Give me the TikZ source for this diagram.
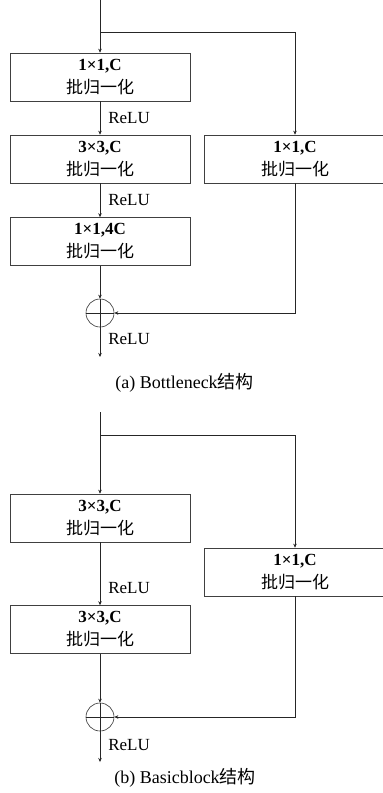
\documentclass[tikz,border=0pt]{standalone}
\usepackage{fontspec}
\setmainfont{Liberation Serif}
\newfontfamily\cjk{Noto Sans CJK SC}
\usetikzlibrary{arrows.meta,positioning}

\newcommand{\zh}[1]{{\cjk #1}}

\begin{document}
\begin{tikzpicture}[
  x=1pt, y=-1pt,
  every node/.style={font=\fontsize{17}{23}\selectfont},
  blockbox/.style={draw=black!75, line width=0.6pt, minimum height=48pt,
    minimum width=180pt, align=center, inner sep=0pt},
  sidebox/.style={blockbox, minimum width=182pt},
  sumnode/.style={draw=black!80, line width=0.6pt, circle, minimum size=28pt,
    inner sep=0pt},
  flow/.style={draw=black!85, line width=0.6pt, -{Stealth[length=4pt,width=3.5pt]}},
  link/.style={draw=black!85, line width=0.6pt},
  relu/.style={right=7pt, inner sep=1pt},
  caption/.style={font=\fontsize{18}{22}\selectfont},
]
\useasboundingbox (0,0) rectangle (383,793);

% (a) Bottleneck
\coordinate (ain) at (100,0);
\coordinate (asplit) at (100,32);
\coordinate (aturn) at (295,32);
\node[blockbox] (a1) at (100,77) {\textbf{1×1,C}\\\zh{批归一化}};
\node[blockbox] (a2) at (100,159) {\textbf{3×3,C}\\\zh{批归一化}};
\node[blockbox] (a3) at (100,241.5) {\textbf{1×1,4C}\\\zh{批归一化}};
\node[sidebox] (ash) at (295,159) {\textbf{1×1,C}\\\zh{批归一化}};
\node[sumnode] (asum) at (100,313) {};
\coordinate (aout) at (100,357);

\draw[flow] (ain) -- (a1);
\draw[flow] (a1) -- node[relu] {ReLU} (a2);
\draw[flow] (a2) -- node[relu] {ReLU} (a3);
\draw[flow] (a3) -- (asum);
\draw[link] (asplit) -- (aturn);
\draw[flow] (aturn) -- (aturn |- ash.north);
\draw[flow] (aturn |- ash.south) |- (asum.east);
\draw[link] (asum.west) -- (asum.east);
\draw[flow] (asum.north) -- node[relu, pos=0.7] {ReLU} (aout);
\node[caption] (acap) at (184.5,383) {(a) Bottleneck\zh{结构}};

% (b) Basicblock
\coordinate (bin) at (100,412);
\coordinate (bsplit) at (100,435);
\coordinate (bturn) at (295,435);
\node[blockbox] (b1) at (100,518) {\textbf{3×3,C}\\\zh{批归一化}};
\node[blockbox] (b2) at (100,629.5) {\textbf{3×3,C}\\\zh{批归一化}};
\node[sidebox] (bsh) at (295,572) {\textbf{1×1,C}\\\zh{批归一化}};
\node[sumnode] (bsum) at (100,717) {};
\coordinate (bout) at (100,762);

\draw[flow] (bin) -- (b1);
\draw[flow] (b1) -- node[relu, pos=0.72] {ReLU} (b2);
\draw[flow] (b2) -- (bsum);
\draw[link] (bsplit) -- (bturn);
\draw[flow] (bturn) -- (bturn |- bsh.north);
\draw[flow] (bturn |- bsh.south) |- (bsum.east);
\draw[link] (bsum.west) -- (bsum.east);
\draw[flow] (bsum.north) -- node[relu, pos=0.72] {ReLU} (bout);
\node[caption] (bcap) at (185,778) {(b) Basicblock\zh{结构}};
\end{tikzpicture}
\end{document}
